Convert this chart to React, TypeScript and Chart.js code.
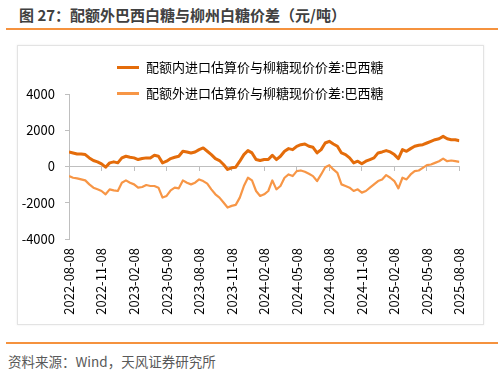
import React, { useEffect, useRef } from "react";
import { Chart, registerables } from "chart.js";

Chart.register(...registerables);

const titleText = "图 27：配额外巴西白糖与柳州白糖价差（元/吨）";
const sourceText = "资料来源：Wind，天风证券研究所";

const quarterLabels = [
  "2022-08-08", "2022-11-08", "2023-02-08", "2023-05-08", "2023-08-08",
  "2023-11-08", "2024-02-08", "2024-05-08", "2024-08-08", "2024-11-08",
  "2025-02-08", "2025-05-08", "2025-08-08",
];
const pointsPerQuarter = 8;

const seriesNames = [
  "配额内进口估算价与柳糖现价价差:巴西糖",
  "配额外进口估算价与柳糖现价价差:巴西糖",
];
const seriesColors = ["#E46C0A", "#F79646"];

const inQuota = [
  803, 749, 694, 694, 657, 475, 329, 256, 146, -37, 201, 256, 201, 475, 566, 511, 475, 383, 438, 475, 475, 621, 566, 201, 292,
  438, 511, 566, 840, 803, 749, 803, 931, 1023, 840, 657, 438, 329, 110, -164, -73, -37, 292, 657, 876, 749, 383, 329, 383,
  383, 621, 383, 566, 840, 986, 931, 1114, 1205, 1242, 1114, 1059, 749, 931, 1296, 1388, 1242, 1114, 749, 657, 475, 201, 292, 150,
  292, 383, 475, 749, 803, 876, 803, 657, 438, 931, 840, 986, 1114, 1169, 1205, 1296, 1388, 1479, 1534, 1662, 1534, 1479, 1479, 1424,
];

const outQuota = [
  -530, -621, -657, -712, -767, -986, -1169, -1260, -1351, -1534, -1260, -1315, -1351, -895, -767, -895, -986, -1169, -1132, -1023, -1077, -1077, -1169, -1716, -1625,
  -1315, -1169, -1205, -767, -895, -986, -895, -712, -803, -949, -1260, -1534, -1716, -1990, -2264, -2173, -2118, -1716, -1077, -621, -767, -1351, -1625, -1534,
  -1351, -767, -1260, -1077, -621, -438, -530, -256, -219, -292, -402, -530, -803, -438, -37, 73, -164, -347, -986, -1077, -1169, -1351, -1260, -1442,
  -1351, -1169, -986, -803, -712, -475, -621, -803, -1205, -621, -712, -438, -256, -219, -73, 73, 110, 201, 292, 438, 292, 329, 292, 256,
];

const yTicks = { min: -4000, max: 4000, step: 2000 };

const FONT = "'Noto Sans CJK SC', 'Noto Sans', sans-serif";
const RULE = "#F5923E";

export default function App() {
  const canvasRef = useRef<HTMLCanvasElement | null>(null);

  useEffect(() => {
    const canvas = canvasRef.current;
    if (!canvas) return;
    const xMax = (quarterLabels.length - 1) * pointsPerQuarter;
    const chart = new Chart(canvas, {
      type: "line",
      data: {
        datasets: [
          {
            label: seriesNames[0],
            data: inQuota.map((y, i) => ({ x: i, y })),
            borderColor: seriesColors[0],
            backgroundColor: seriesColors[0],
            borderWidth: 3,
            pointRadius: 0,
            tension: 0,
            borderJoinStyle: "round",
          },
          {
            label: seriesNames[1],
            data: outQuota.map((y, i) => ({ x: i, y })),
            borderColor: seriesColors[1],
            backgroundColor: seriesColors[1],
            borderWidth: 2.2,
            pointRadius: 0,
            tension: 0,
            borderJoinStyle: "round",
          },
        ],
      },
      options: {
        responsive: false,
        animation: false,
        events: [],
        layout: { padding: { top: 49, right: 8, left: 0, bottom: 0 } },
        plugins: {
          legend: { display: false },
          tooltip: { enabled: false },
        },
        scales: {
          x: {
            type: "linear",
            position: "bottom",
            min: 0,
            max: xMax,
            grid: { display: false, drawTicks: false },
            border: { display: false },
            ticks: {
              stepSize: pointsPerQuarter,
              autoSkip: false,
              maxRotation: 90,
              minRotation: 90,
              padding: 9,
              color: "#000000",
              font: { family: FONT, size: 13 },
              callback: (v: any) => {
                const q = Number(v) / pointsPerQuarter;
                return Number.isInteger(q) ? quarterLabels[q] ?? "" : "";
              },
            },
            afterFit: (s: any) => {
              s.height = 86;
            },
          },
          x2: {
            type: "linear",
            axis: "x",
            position: { y: 0 },
            min: 0,
            max: xMax,
            grid: { drawOnChartArea: false, drawTicks: true, tickLength: 4, color: "#BFBFBF" },
            border: { display: true, color: "#BFBFBF", width: 1 },
            ticks: { display: false, stepSize: pointsPerQuarter, autoSkip: false },
          },
          y: {
            type: "linear",
            position: "left",
            min: yTicks.min,
            max: yTicks.max,
            grid: { drawOnChartArea: false, drawTicks: true, tickLength: 4, color: "#BFBFBF" },
            border: { display: true, color: "#BFBFBF", width: 1 },
            ticks: {
              stepSize: yTicks.step,
              padding: 10,
              color: "#000000",
              font: { family: FONT, size: 13 },
              callback: (v: any) => String(v),
            },
            afterFit: (s: any) => {
              s.width = 52;
            },
          },
        },
      },
    } as any);
    return () => chart.destroy();
  }, []);

  return (
    <div
      style={{
        position: "absolute",
        left: 0,
        top: 0,
        width: 504,
        height: 373,
        background: "#ffffff",
        fontFamily: FONT,
        overflow: "hidden",
      }}
    >
      <div
        style={{
          position: "absolute",
          left: 19,
          top: 5,
          fontSize: 15,
          lineHeight: "20px",
          fontWeight: 700,
          color: "#404040",
          whiteSpace: "nowrap",
        }}
      >
        {titleText}
      </div>
      <div style={{ position: "absolute", left: 6, top: 28, width: 492, height: 2, background: RULE }} />

      <div
        style={{
          position: "absolute",
          left: 17,
          top: 45,
          width: 467,
          height: 280,
          boxSizing: "border-box",
          border: "1px solid #E3E3E3",
          boxShadow: "0 0 2px rgba(0,0,0,0.08)",
        }}
      >
        <canvas
          ref={canvasRef}
          width={467}
          height={280}
          style={{ position: "absolute", left: -1, top: -1, width: 467, height: 280 }}
        />
      </div>

      {seriesNames.map((name, i) => (
        <div
          key={name}
          style={{
            position: "absolute",
            left: 117,
            top: 57 + i * 26,
            height: 20,
            display: "flex",
            alignItems: "center",
            whiteSpace: "nowrap",
          }}
        >
          <div style={{ width: 22, height: 3, background: seriesColors[i], marginRight: 7 }} />
          <span style={{ fontSize: 13, color: "#000000", lineHeight: "20px" }}>{name}</span>
        </div>
      ))}

      <div style={{ position: "absolute", left: 6, top: 342, width: 492, height: 2, background: RULE }} />
      <div
        style={{
          position: "absolute",
          left: 8,
          top: 351,
          fontSize: 13.5,
          lineHeight: "20px",
          color: "#595959",
          whiteSpace: "nowrap",
        }}
      >
        {sourceText}
      </div>
    </div>
  );
}
